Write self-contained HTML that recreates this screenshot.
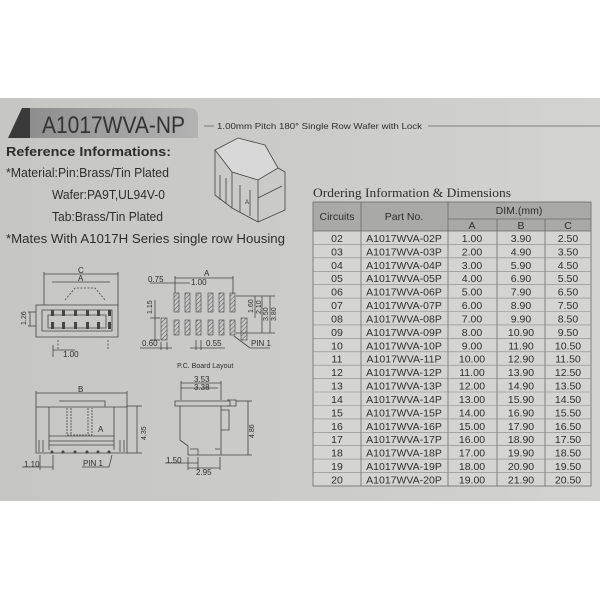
<!DOCTYPE html>
<html><head><meta charset="utf-8"><style>
html,body{margin:0;padding:0;width:600px;height:600px;background:#fff;overflow:hidden}
svg{display:block}
text{font-family:"Liberation Sans",sans-serif;fill:#2e2e2e}
.d{stroke:#444;stroke-width:0.8;fill:none}
.t{font-size:10.5px;fill:#333}
</style></head><body>
<svg width="600" height="600" viewBox="0 0 600 600">
<defs>
<linearGradient id="bg" x1="0" y1="0" x2="1" y2="0">
<stop offset="0" stop-color="#c6c6c4"/><stop offset="0.5" stop-color="#cbcbc9"/><stop offset="1" stop-color="#d3d3d1"/>
</linearGradient>
<linearGradient id="pill" x1="0" y1="0" x2="1" y2="0">
<stop offset="0" stop-color="#8e8e8e"/><stop offset="1" stop-color="#b3b3b3"/>
</linearGradient>
<pattern id="h" width="3" height="3" patternUnits="userSpaceOnUse" patternTransform="rotate(45)">
<rect width="3" height="3" fill="#c8c8c8"/><line x1="0" y1="0" x2="0" y2="3" stroke="#555" stroke-width="1"/>
</pattern>
</defs>
<rect x="0" y="98" width="600" height="403" fill="url(#bg)"/>
<!-- title -->
<path d="M30 108 H188 Q198 108 198 116 V138 H30 Z" fill="url(#pill)"/>
<path d="M8 138 L22 108 L30 108 L30 138 Z" fill="#3a3a3a"/>
<text x="42" y="133" textLength="143" lengthAdjust="spacingAndGlyphs" style="font-size:24px;fill:#333">A1017WVA-NP</text>
<line x1="204" y1="126" x2="214" y2="126" stroke="#666" stroke-width="0.8"/>
<text x="217" y="129" textLength="205" lengthAdjust="spacingAndGlyphs" style="font-size:8.5px">1.00mm Pitch 180°  Single Row Wafer with Lock</text>
<line x1="428" y1="126" x2="600" y2="126" stroke="#666" stroke-width="0.8"/>
<text x="6" y="156" textLength="165" lengthAdjust="spacingAndGlyphs" style="font-size:13px;font-weight:bold">Reference Informations:</text>
<text x="6" y="177" textLength="163" lengthAdjust="spacingAndGlyphs" style="font-size:12.5px">*Material:Pin:Brass/Tin Plated</text>
<text x="52" y="199" textLength="113" lengthAdjust="spacingAndGlyphs" style="font-size:12.5px">Wafer:PA9T,UL94V-0</text>
<text x="52" y="221" textLength="111" lengthAdjust="spacingAndGlyphs" style="font-size:12.5px">Tab:Brass/Tin Plated</text>
<text x="6" y="243" textLength="279" lengthAdjust="spacingAndGlyphs" style="font-size:12.5px">*Mates With A1017H Series single row Housing</text>
<!-- 3D sketch -->
<g class="d">
<path d="M215 150 L238 138 L265 145 L278 168 L258 180 L232 172 Z" fill="#d8d8d8"/>
<path d="M215 150 L215 195 L232 208 L232 172"/>
<path d="M232 208 L258 222 L258 180"/>
<path d="M258 222 L285 210 L285 172 L278 168"/>
<path d="M220 175 L220 200 M226 178 L226 204 M240 185 L240 212 M250 190 L250 216"/>
<path d="M258 198 L282 186"/>
</g>
<text x="245" y="204" style="font-size:6px">A</text>
<!-- Table -->
<text x="313" y="197" textLength="198" lengthAdjust="spacingAndGlyphs" style="font-family:'Liberation Serif',serif;font-size:13px">Ordering Information &amp; Dimensions</text>
<rect x="313" y="202" width="278" height="29" fill="#a9a9a7"/>
<rect x="313" y="231" width="278" height="255" fill="#d4d4d2"/>
<g stroke="#6a6a6a" stroke-width="0.8" fill="none">
<rect x="313" y="202" width="278" height="284"/>
<line x1="361" y1="202" x2="361" y2="486"/>
<line x1="448" y1="202" x2="448" y2="486"/>
<line x1="497" y1="219" x2="497" y2="486"/>
<line x1="545" y1="219" x2="545" y2="486"/>
<line x1="448" y1="219" x2="591" y2="219"/>
<line x1="313" y1="231" x2="591" y2="231"/>
</g>
<g stroke="#888" stroke-width="0.6">
<line x1="313" y1="244.4" x2="591" y2="244.4"/><line x1="313" y1="257.8" x2="591" y2="257.8"/><line x1="313" y1="271.3" x2="591" y2="271.3"/><line x1="313" y1="284.7" x2="591" y2="284.7"/><line x1="313" y1="298.1" x2="591" y2="298.1"/><line x1="313" y1="311.5" x2="591" y2="311.5"/><line x1="313" y1="324.9" x2="591" y2="324.9"/><line x1="313" y1="338.4" x2="591" y2="338.4"/><line x1="313" y1="351.8" x2="591" y2="351.8"/><line x1="313" y1="365.2" x2="591" y2="365.2"/><line x1="313" y1="378.6" x2="591" y2="378.6"/><line x1="313" y1="392" x2="591" y2="392"/><line x1="313" y1="405.5" x2="591" y2="405.5"/><line x1="313" y1="418.9" x2="591" y2="418.9"/><line x1="313" y1="432.3" x2="591" y2="432.3"/><line x1="313" y1="445.7" x2="591" y2="445.7"/><line x1="313" y1="459.1" x2="591" y2="459.1"/><line x1="313" y1="472.6" x2="591" y2="472.6"/>
</g>
<g class="t" text-anchor="middle">
<text x="337" y="220">Circuits</text><text x="404" y="220">Part No.</text><text x="519" y="214">DIM.(mm)</text>
<text x="472" y="229">A</text><text x="521" y="229">B</text><text x="568" y="229">C</text>
</g>
<g class="t">
<g text-anchor="middle">
<text x="337" y="242">02</text><text x="337" y="255.4">03</text><text x="337" y="268.8">04</text><text x="337" y="282.2">05</text><text x="337" y="295.6">06</text><text x="337" y="309">07</text><text x="337" y="322.5">08</text><text x="337" y="335.9">09</text><text x="337" y="349.3">10</text><text x="337" y="362.7">11</text><text x="337" y="376.1">12</text><text x="337" y="389.6">13</text><text x="337" y="403">14</text><text x="337" y="416.4">15</text><text x="337" y="429.8">16</text><text x="337" y="443.2">17</text><text x="337" y="456.7">18</text><text x="337" y="470.1">19</text><text x="337" y="483.5">20</text>
<text x="472" y="242">1.00</text><text x="472" y="255.4">2.00</text><text x="472" y="268.8">3.00</text><text x="472" y="282.2">4.00</text><text x="472" y="295.6">5.00</text><text x="472" y="309">6.00</text><text x="472" y="322.5">7.00</text><text x="472" y="335.9">8.00</text><text x="472" y="349.3">9.00</text><text x="472" y="362.7">10.00</text><text x="472" y="376.1">11.00</text><text x="472" y="389.6">12.00</text><text x="472" y="403">13.00</text><text x="472" y="416.4">14.00</text><text x="472" y="429.8">15.00</text><text x="472" y="443.2">16.00</text><text x="472" y="456.7">17.00</text><text x="472" y="470.1">18.00</text><text x="472" y="483.5">19.00</text>
<text x="521" y="242">3.90</text><text x="521" y="255.4">4.90</text><text x="521" y="268.8">5.90</text><text x="521" y="282.2">6.90</text><text x="521" y="295.6">7.90</text><text x="521" y="309">8.90</text><text x="521" y="322.5">9.90</text><text x="521" y="335.9">10.90</text><text x="521" y="349.3">11.90</text><text x="521" y="362.7">12.90</text><text x="521" y="376.1">13.90</text><text x="521" y="389.6">14.90</text><text x="521" y="403">15.90</text><text x="521" y="416.4">16.90</text><text x="521" y="429.8">17.90</text><text x="521" y="443.2">18.90</text><text x="521" y="456.7">19.90</text><text x="521" y="470.1">20.90</text><text x="521" y="483.5">21.90</text>
<text x="568" y="242">2.50</text><text x="568" y="255.4">3.50</text><text x="568" y="268.8">4.50</text><text x="568" y="282.2">5.50</text><text x="568" y="295.6">6.50</text><text x="568" y="309">7.50</text><text x="568" y="322.5">8.50</text><text x="568" y="335.9">9.50</text><text x="568" y="349.3">10.50</text><text x="568" y="362.7">11.50</text><text x="568" y="376.1">12.50</text><text x="568" y="389.6">13.50</text><text x="568" y="403">14.50</text><text x="568" y="416.4">15.50</text><text x="568" y="429.8">16.50</text><text x="568" y="443.2">17.50</text><text x="568" y="456.7">18.50</text><text x="568" y="470.1">19.50</text><text x="568" y="483.5">20.50</text>
</g>
<g text-anchor="middle">
<text x="404" y="242">A1017WVA-02P</text><text x="404" y="255.4">A1017WVA-03P</text><text x="404" y="268.8">A1017WVA-04P</text><text x="404" y="282.2">A1017WVA-05P</text><text x="404" y="295.6">A1017WVA-06P</text><text x="404" y="309">A1017WVA-07P</text><text x="404" y="322.5">A1017WVA-08P</text><text x="404" y="335.9">A1017WVA-09P</text><text x="404" y="349.3">A1017WVA-10P</text><text x="404" y="362.7">A1017WVA-11P</text><text x="404" y="376.1">A1017WVA-12P</text><text x="404" y="389.6">A1017WVA-13P</text><text x="404" y="403">A1017WVA-14P</text><text x="404" y="416.4">A1017WVA-15P</text><text x="404" y="429.8">A1017WVA-16P</text><text x="404" y="443.2">A1017WVA-17P</text><text x="404" y="456.7">A1017WVA-18P</text><text x="404" y="470.1">A1017WVA-19P</text><text x="404" y="483.5">A1017WVA-20P</text>
</g>
</g>
<!-- Drawing 1: front view -->
<g class="d">
<line x1="44" y1="274" x2="118" y2="274"/><line x1="44" y1="272" x2="44" y2="305"/><line x1="118" y1="272" x2="118" y2="305"/>
<line x1="52" y1="282" x2="110" y2="282"/>
<path d="M36 305 H118 V337 H36 Z"/>
<path d="M42 310 H112 V331 H42 Z"/>
<path d="M48 315 H106 V328 H48 Z"/>
<path d="M65 300 L75 288 H95 L105 300" stroke-dasharray="2,1.5"/>
<line x1="58" y1="340" x2="58" y2="350" stroke-dasharray="2,1.5"/><line x1="108" y1="340" x2="108" y2="350" stroke-dasharray="2,1.5"/>
<line x1="53" y1="350" x2="75" y2="350"/><line x1="53" y1="345" x2="53" y2="357"/>
<line x1="28" y1="312" x2="36" y2="312"/><line x1="28" y1="326" x2="36" y2="326"/><line x1="30" y1="312" x2="30" y2="326"/>
</g>
<g fill="#444"><rect x="51" y="310" width="3" height="6"/><rect x="62" y="310" width="3" height="6"/><rect x="74" y="310" width="3" height="6"/><rect x="86" y="310" width="3" height="6"/><rect x="97" y="310" width="3" height="6"/><rect x="108" y="310" width="3" height="6"/>
<rect x="51" y="322" width="3" height="7"/><rect x="62" y="322" width="3" height="7"/><rect x="74" y="322" width="3" height="7"/><rect x="86" y="322" width="3" height="7"/><rect x="97" y="322" width="3" height="7"/><rect x="108" y="322" width="3" height="7"/></g>
<text x="78" y="273" style="font-size:8px">C</text><text x="78" y="281" style="font-size:8px">A</text>
<text x="63" y="357" style="font-size:8px">1.00</text>
<text x="26" y="325" style="font-size:7px" transform="rotate(-90 26 325)">1.26</text>
<!-- Drawing 2: PCB layout -->
<g fill="url(#h)" stroke="#444" stroke-width="0.6">
<rect x="174" y="293" width="5" height="19"/><rect x="185" y="293" width="5" height="19"/><rect x="196" y="293" width="5" height="19"/><rect x="208" y="293" width="5" height="19"/><rect x="219" y="293" width="5" height="19"/><rect x="230" y="293" width="5" height="19"/>
<rect x="174" y="320" width="5" height="15"/><rect x="185" y="320" width="5" height="15"/><rect x="196" y="320" width="5" height="15"/><rect x="208" y="320" width="5" height="15"/><rect x="219" y="320" width="5" height="15"/><rect x="230" y="320" width="5" height="15"/>
<rect x="161" y="318" width="6" height="22"/><rect x="241" y="318" width="6" height="22"/>
</g>
<g class="d">
<line x1="175" y1="278" x2="233" y2="278"/><line x1="175" y1="276" x2="175" y2="293"/><line x1="233" y1="276" x2="233" y2="293"/>
<line x1="150" y1="283" x2="190" y2="283"/>
<line x1="150" y1="318" x2="160" y2="318"/><line x1="150" y1="340" x2="160" y2="340"/>
<line x1="155" y1="300" x2="155" y2="340"/>
<line x1="236" y1="296" x2="275" y2="296"/><line x1="236" y1="333" x2="275" y2="333"/><line x1="255" y1="296" x2="255" y2="318"/><line x1="262" y1="296" x2="262" y2="333"/><line x1="270" y1="296" x2="270" y2="333"/>
<line x1="161" y1="342" x2="161" y2="350"/><line x1="167" y1="342" x2="167" y2="350"/><line x1="140" y1="348" x2="172" y2="348"/>
<line x1="196" y1="340" x2="196" y2="350"/><line x1="201" y1="340" x2="201" y2="350"/><line x1="190" y1="348" x2="225" y2="348"/>
<line x1="234" y1="336" x2="250" y2="348" /><line x1="250" y1="348" x2="270" y2="348"/>
</g>
<g style="font-size:8px"><text x="204" y="276">A</text><text x="148" y="282">0.75</text><text x="191" y="285">1.00</text>
<text x="142" y="346">0.60</text><text x="206" y="346">0.55</text><text x="251" y="346">PIN 1</text>
<text x="152" y="314" style="font-size:7px" transform="rotate(-90 152 314)">1.15</text>
<text x="253" y="313" style="font-size:7px" transform="rotate(-90 253 313)">1.60</text>
<text x="261" y="314" style="font-size:7px" transform="rotate(-90 261 314)">2.10</text>
<text x="268" y="321" style="font-size:7px" transform="rotate(-90 268 321)">3.50</text>
<text x="276" y="321" style="font-size:7px" transform="rotate(-90 276 321)">3.80</text>
<text x="177" y="368" style="font-size:7px">P.C.  Board Layout</text></g>
<!-- Drawing 3: top view -->
<g class="d">
<line x1="36" y1="393" x2="127" y2="393"/><line x1="36" y1="391" x2="36" y2="407"/><line x1="127" y1="391" x2="127" y2="407"/>
<path d="M36 407 H127 V453 H36 Z"/>
<path d="M49 407 V450 M114 407 V450"/>
<path d="M59 401 H105 V407"/>
<path d="M67 408 V435 H92 V408 M71 408 V435 M88 408 V435" stroke-dasharray="2,1"/>
<path d="M49 436 H114 M49 441 H114 M49 445 H114"/>
<path d="M39 440 V452 M43 440 V452 M120 440 V452 M124 440 V452"/>
<line x1="127" y1="406" x2="142" y2="406"/><line x1="127" y1="453" x2="142" y2="453"/><line x1="137" y1="406" x2="137" y2="453"/>
<line x1="40" y1="455" x2="40" y2="470"/><line x1="53" y1="455" x2="53" y2="470"/><line x1="22" y1="467" x2="53" y2="467"/>
<line x1="82" y1="467" x2="109" y2="467"/><line x1="109" y1="467" x2="112" y2="455"/>
</g>
<g fill="#444"><circle cx="52" cy="452" r="1.5"/><circle cx="63" cy="452" r="1.5"/><circle cx="75" cy="452" r="1.5"/><circle cx="87" cy="452" r="1.5"/><circle cx="98" cy="452" r="1.5"/><circle cx="109" cy="452" r="1.5"/></g>
<g style="font-size:8px"><text x="78" y="392">B</text><text x="98" y="432">A</text><text x="24" y="467">1.10</text><text x="83" y="466">PIN 1</text>
<text x="146" y="440" style="font-size:7px" transform="rotate(-90 146 440)">4.35</text></g>
<!-- Drawing 4: side view -->
<g class="d">
<path d="M175 401 H230 V406 H175 Z"/>
<path d="M180 406 V440 L188 446 V455 H221 V406"/>
<path d="M227 406 H236 V400 H227"/>
<path d="M221 410 H229 V430 H221"/>
<path d="M190 449 H198 V455 M215 449 H220"/>
<line x1="181" y1="383" x2="221" y2="383"/><line x1="181" y1="388" x2="218" y2="388"/><line x1="181" y1="381" x2="181" y2="400"/><line x1="221" y1="381" x2="221" y2="400"/>
<line x1="236" y1="401" x2="252" y2="401"/><line x1="221" y1="455" x2="252" y2="455"/><line x1="248" y1="401" x2="248" y2="455"/>
<line x1="188" y1="457" x2="188" y2="470"/><line x1="198" y1="457" x2="198" y2="470"/><line x1="165" y1="463" x2="198" y2="463"/>
<line x1="188" y1="468" x2="220" y2="468"/><line x1="220" y1="457" x2="220" y2="470"/>
</g>
<g style="font-size:8px"><text x="194" y="382">3.53</text><text x="194" y="390">3.38</text><text x="166" y="463">1.50</text><text x="196" y="475">2.95</text>
<text x="254" y="438" style="font-size:7px" transform="rotate(-90 254 438)">4.86</text></g>
</svg>
</body></html>
